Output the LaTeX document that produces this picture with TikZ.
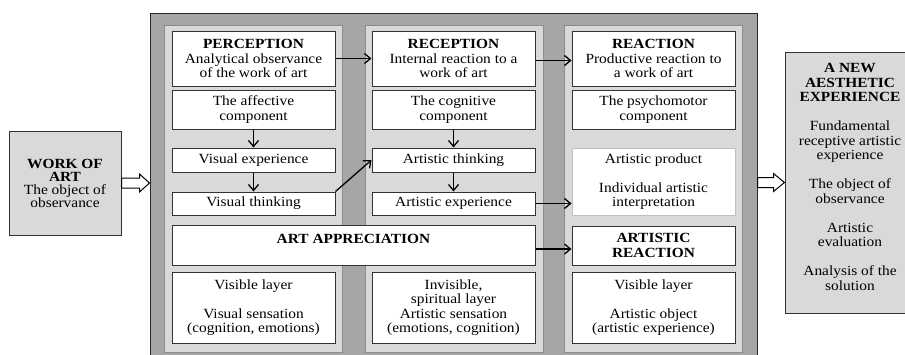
\documentclass[tikz,border=0pt]{standalone}
\usepackage{fontspec}
\setmainfont{Liberation Serif}[FakeStretch=1.1]
\usetikzlibrary{arrows.meta,calc}
\begin{document}
\begin{tikzpicture}[x=1pt,y=-1pt,
 every node/.style={font=\fontsize{14}{14.5}\selectfont, align=center, inner sep=0pt},
 wbox/.style={draw=black!80, fill=white, line width=1pt, minimum width=163pt},
 panel/.style={draw=black!45, fill=black!15, line width=0.8pt, minimum width=178pt, minimum height=327pt},
 gbox/.style={draw=black!80, fill=black!15, line width=1pt},
 arr/.style={line width=1.3pt, -{Straight Barb[length=6pt,width=10pt]}},
 hollow/.style={draw=black, fill=white, line width=1pt, line join=miter}]
\clip (0,0) rectangle (905,354);
\fill[white] (0,0) rectangle (905,354);
% outer frame and panels
\node[draw=black!85, fill=black!35, line width=1pt, minimum width=607pt, minimum height=360pt] (outer) at (453.5,193) {};
\node[panel] (p1) at (253.5,188.5) {};
\node[panel] (p2) at (454,188.5) {};
\node[panel] (p3) at (653.5,188.5) {};
% column 1
\node[wbox, minimum height=55pt] (perc) at (253.5,58.5) {\textbf{PERCEPTION}\\Analytical observance\\of the work of art};
\node[wbox, minimum height=39pt] (aff) at (253.5,109.5) {The affective\\component};
\node[wbox, minimum height=24pt] (vexp) at (253.5,160) {Visual experience};
\node[wbox, minimum height=23pt] (vthink) at (253.5,203.5) {Visual thinking};
\node[wbox, minimum height=71pt] (vis1) at (253.5,307.5) {Visible layer\\[14.5pt]Visual sensation\\(cognition, emotions)};
% column 2
\node[wbox, minimum height=55pt] (recep) at (453.5,58.5) {\textbf{RECEPTION}\\Internal reaction to a\\work of art};
\node[wbox, minimum height=39pt] (cog) at (453.5,109.5) {The cognitive\\component};
\node[wbox, minimum height=24pt] (athink) at (453.5,160) {Artistic thinking};
\node[wbox, minimum height=23pt] (aexp) at (453.5,203.5) {Artistic experience};
\node[wbox, minimum height=71pt] (invis) at (453.5,307.5) {Invisible,\\spiritual layer\\Artistic sensation\\(emotions, cognition)};
% column 3
\node[wbox, minimum height=55pt] (react) at (653.5,58.5) {\textbf{REACTION}\\Productive reaction to\\a work of art};
\node[wbox, minimum height=39pt] (psy) at (653.5,109.5) {The psychomotor\\component};
\node[wbox, draw=black!25, minimum height=67pt] (prod) at (653.5,181.5) {Artistic product\\[14.5pt]Individual artistic\\interpretation};
\node[wbox, minimum height=39pt] (artreact) at (653.5,245.5) {\textbf{ARTISTIC}\\\textbf{REACTION}};
\node[wbox, minimum height=71pt] (vis3) at (653.5,307.5) {Visible layer\\[14.5pt]Artistic object\\(artistic experience)};
% art appreciation
\node[wbox, minimum width=363pt, minimum height=40pt] (artapp) at (353.5,245) {};
\node (artapptxt) at (353.5,239) {\textbf{ART APPRECIATION}};
% side boxes
\node[gbox, minimum width=112pt, minimum height=104pt] (work) at (65,183) {\textbf{WORK OF}\\[-1.5pt]\textbf{ART}\\[-1.5pt]The object of\\[-1.5pt]observance};
\node[gbox, minimum width=130pt, minimum height=261pt] (newexp) at (850,182.5) {};
\node (newexptxt) at (850,177) {\textbf{A NEW}\\\textbf{AESTHETIC}\\\textbf{EXPERIENCE}\\[14.5pt]Fundamental\\receptive artistic\\experience\\[14.5pt]The object of\\observance\\[14.5pt]Artistic\\evaluation\\[14.5pt]Analysis of the\\solution};
% connectors
\draw[arr] (perc) -- (recep);
\draw[arr] ([yshift=-2pt]recep.east) -- ([yshift=-2pt]react.west);
\draw[arr] (aff) -- (vexp);
\draw[arr] (vexp) -- (vthink);
\draw[arr] (cog) -- (athink);
\draw[arr] (athink) -- (aexp);
\draw[arr] (vthink.north east) -- (athink.west);
\draw[arr] (aexp.east) -- (aexp.east -| prod.west);
\draw[arr] ([yshift=-4pt]artapp.east) -- ([yshift=-4pt]artapp.east -| artreact.west);
% hollow arrows
\coordinate (lt) at (work.east -| outer.west);
\draw[hollow] ($(work.east)+(0,-5)$) -- ($(lt)+(-10,-5)$) -- ($(lt)+(-10,-9)$) -- (lt) -- ($(lt)+(-10,9)$) -- ($(lt)+(-10,5)$) -- ($(work.east)+(0,5)$) -- cycle;
\coordinate (rb) at (newexp.west -| outer.east);
\draw[hollow] ($(rb)+(0,-5)$) -- ($(newexp.west)+(-11,-5)$) -- ($(newexp.west)+(-11,-9)$) -- (newexp.west) -- ($(newexp.west)+(-11,9)$) -- ($(newexp.west)+(-11,5)$) -- ($(rb)+(0,5)$) -- cycle;
\end{tikzpicture}
\end{document}
